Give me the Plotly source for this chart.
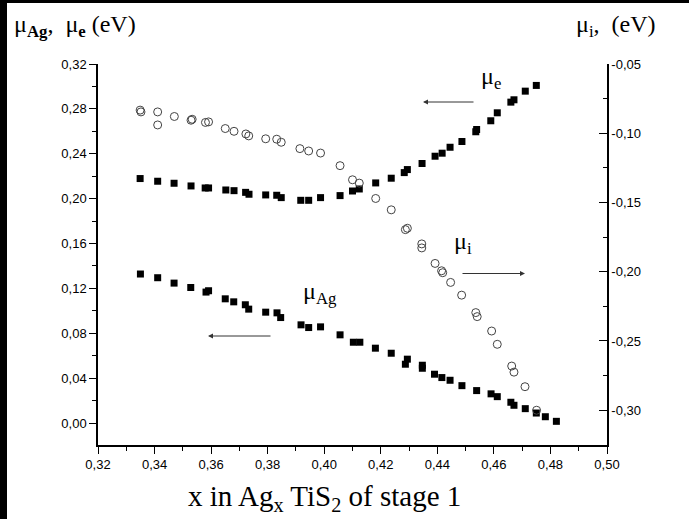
import plotly.graph_objects as go

# ---- data ----
x_mu_e = [0.3349, 0.3411, 0.3469, 0.3529, 0.3579, 0.3591, 0.3652, 0.3681, 0.3722, 0.3734,
          0.3793, 0.3832, 0.3848, 0.3917, 0.3945, 0.3987, 0.4056, 0.4100, 0.4124, 0.4182,
          0.4237, 0.4283, 0.4294, 0.4346, 0.4392, 0.4417, 0.4445, 0.4487, 0.4536, 0.4539,
          0.4589, 0.4612, 0.4660, 0.4671, 0.4711, 0.4750]
mu_e = [0.2179, 0.2155, 0.2137, 0.2113, 0.2095, 0.2095, 0.2077, 0.2071, 0.2056, 0.2039,
        0.2033, 0.2030, 0.2009, 0.1985, 0.1985, 0.2009, 0.2027, 0.2068, 0.2086, 0.2140,
        0.2182, 0.2232, 0.2259, 0.2313, 0.2378, 0.2405, 0.2458, 0.2509, 0.2596, 0.2616,
        0.2694, 0.2765, 0.2860, 0.2881, 0.2958, 0.3009]

x_mu_ag = [0.3350, 0.3411, 0.3469, 0.3528, 0.3582, 0.3591, 0.3650, 0.3680, 0.3721, 0.3733,
           0.3793, 0.3833, 0.3846, 0.3918, 0.3945, 0.3987, 0.4056, 0.4103, 0.4126, 0.4181,
           0.4237, 0.4294, 0.4287, 0.4347, 0.4347, 0.4390, 0.4416, 0.4445, 0.4487, 0.4539,
           0.4590, 0.4612, 0.4660, 0.4671, 0.4711, 0.4750, 0.4782, 0.4821]
mu_ag = [0.1328, 0.1295, 0.1247, 0.1208, 0.1167, 0.1179, 0.1107, 0.1080, 0.1054, 0.1015,
         0.0988, 0.0982, 0.0940, 0.0875, 0.0851, 0.0857, 0.0786, 0.0720, 0.0720, 0.0667,
         0.0622, 0.0569, 0.0524, 0.0515, 0.0488, 0.0435, 0.0405, 0.0381, 0.0333, 0.0289,
         0.0260, 0.0235, 0.0185, 0.0158, 0.0128, 0.0089, 0.0056, 0.0015]

x_mu_i = [0.3349, 0.3352, 0.3411, 0.3411, 0.3470, 0.3529, 0.3533, 0.3580, 0.3591, 0.3650,
          0.3681, 0.3723, 0.3733, 0.3793, 0.3832, 0.3848, 0.3914, 0.3945, 0.3987, 0.4056,
          0.4100, 0.4124, 0.4182, 0.4237, 0.4287, 0.4294, 0.4345, 0.4345, 0.4392, 0.4415,
          0.4419, 0.4447, 0.4486, 0.4536, 0.4541, 0.4592, 0.4612, 0.4663, 0.4671, 0.4710,
          0.4751]
mu_i = [-0.0833, -0.0846, -0.0846, -0.0940, -0.0879, -0.0906, -0.0899, -0.0922, -0.0918, -0.0966,
        -0.0986, -0.1005, -0.1019, -0.1040, -0.1043, -0.1065, -0.1111, -0.1128, -0.1143, -0.1234,
        -0.1336, -0.1360, -0.1471, -0.1553, -0.1696, -0.1686, -0.1799, -0.1828, -0.1940, -0.1993,
        -0.2007, -0.2077, -0.2169, -0.2295, -0.2324, -0.2428, -0.2524, -0.2681, -0.2725, -0.2830,
        -0.3000]

left_ticks = [0.00, 0.04, 0.08, 0.12, 0.16, 0.20, 0.24, 0.28, 0.32]
right_ticks = [-0.05, -0.10, -0.15, -0.20, -0.25, -0.30]
right_ticktext = ["-0,05", "-0,10", "-0,15", "-0,20", "-0,25", "-0,30"]

# ---- layout geometry (pixels) ----
W, H = 689, 519
L, R, T, B = 98, 607, 64, 445
PW, PH = R - L, B - T


def px(x):
    return (x - L) / PW


def py(y):
    return (B - y) / PH


SERIF = "Liberation Serif, Times New Roman, serif"
SANS = "Liberation Sans, Arial, sans-serif"

fig = go.Figure()
fig.add_trace(go.Scatter(x=x_mu_e, y=mu_e, mode="markers",
                         marker=dict(symbol="square", size=7, color="black"),
                         showlegend=False))
fig.add_trace(go.Scatter(x=x_mu_ag, y=mu_ag, mode="markers",
                         marker=dict(symbol="square", size=7, color="black"),
                         showlegend=False))
fig.add_trace(go.Scatter(x=x_mu_i, y=mu_i, mode="markers", yaxis="y2",
                         marker=dict(symbol="circle-open", size=8, color="#444",
                                     line=dict(width=1, color="#444")),
                         showlegend=False))

axis_common = dict(showgrid=False, zeroline=False, showline=True, linecolor="black",
                   linewidth=1.5, tickcolor="black", tickwidth=1.2,
                   tickfont=dict(family=SANS, size=13, color="black"))

fig.update_layout(
    width=W, height=H,
    margin=dict(l=L, r=W - R, t=T, b=H - B, pad=0),
    paper_bgcolor="white", plot_bgcolor="white",
    separators=", ",
    xaxis=dict(range=[0.32, 0.50], dtick=0.02, tick0=0.32, tickformat=".2f",
               ticks="outside", ticklen=7,
               minor=dict(dtick=0.01, ticks="outside", ticklen=4, tickcolor="black", tickwidth=1.2),
               **axis_common),
    yaxis=dict(range=[-0.0196, 0.32], tickvals=left_ticks, tickformat=".2f",
               ticks="outside", ticklen=7,
               minor=dict(dtick=0.02, tick0=0, ticks="outside", ticklen=4, tickcolor="black", tickwidth=1.2),
               **axis_common),
    yaxis2=dict(range=[-0.3251, -0.05], overlaying="y", side="right",
                tickvals=right_ticks, ticktext=right_ticktext,
                ticks="inside", ticklen=8,
                minor=dict(dtick=0.025, tick0=-0.05, ticks="inside", ticklen=4, tickcolor="black", tickwidth=1.2),
                **axis_common),
)

annotations = [
    dict(text="μ<sub><b>Ag</b></sub>,  μ<sub><b>e</b></sub> (eV)", x=px(12), y=py(26),
         xanchor="left", yanchor="middle", font=dict(family=SERIF, size=24, color="black")),
    dict(text="μ<sub>i</sub>,  (eV)", x=px(574), y=py(26),
         xanchor="left", yanchor="middle", font=dict(family=SERIF, size=24, color="black")),
    dict(text="x in Ag<sub>x</sub> TiS<sub>2</sub> of stage 1", x=px(324), y=py(498),
         xanchor="center", yanchor="middle", font=dict(family=SERIF, size=29, color="black")),
    dict(text="μ<sub>e</sub>", x=px(479), y=py(78),
         xanchor="left", yanchor="middle", font=dict(family=SERIF, size=24, color="black")),
    dict(text="μ<sub>i</sub>", x=px(452), y=py(243),
         xanchor="left", yanchor="middle", font=dict(family=SERIF, size=24, color="black")),
    dict(text="μ<sub>Ag</sub>", x=px(301), y=py(293),
         xanchor="left", yanchor="middle", font=dict(family=SERIF, size=24, color="black")),
]
for a in annotations:
    a.update(xref="paper", yref="paper", showarrow=False)

arrows = [((423, 102), 52), ((525, 273.5), -64), ((208, 336), 64)]
for (hx, hy), dx in arrows:
    annotations.append(dict(text="", x=px(hx), y=py(hy), xref="paper", yref="paper",
                            showarrow=True, ax=dx, ay=0, arrowhead=2, arrowsize=1,
                            arrowwidth=1, arrowcolor="#333", standoff=0, startstandoff=0))
fig.update_layout(annotations=annotations)

# black frame strips at left and top edges of the picture
fig.add_shape(type="rect", xref="paper", yref="paper", x0=px(0), x1=px(7), y0=py(H), y1=py(0),
              fillcolor="black", line=dict(width=0), layer="above")
fig.add_shape(type="rect", xref="paper", yref="paper", x0=px(0), x1=px(W), y0=py(3), y1=py(0),
              fillcolor="black", line=dict(width=0), layer="above")

fig.write_html("out.html")
